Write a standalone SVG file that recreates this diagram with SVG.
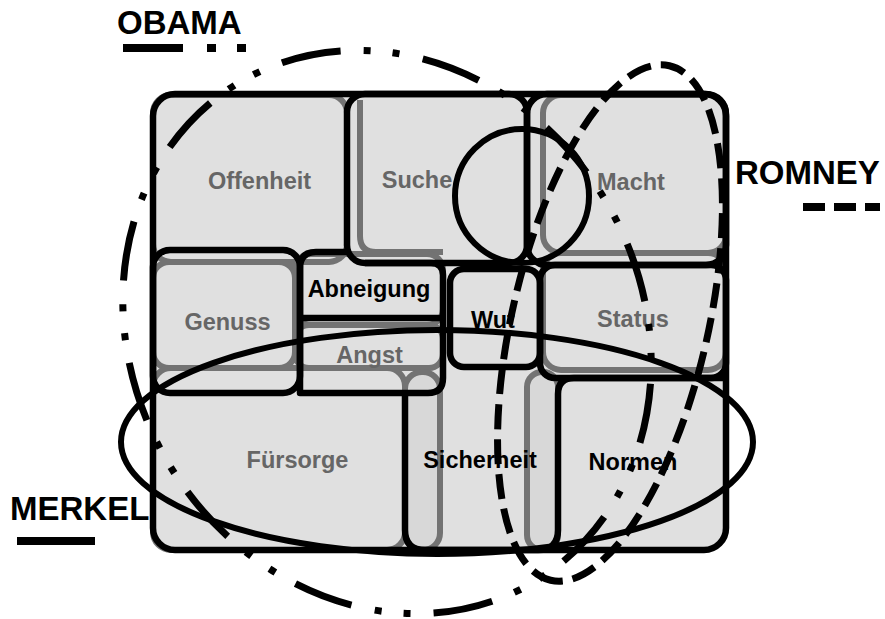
<svg xmlns="http://www.w3.org/2000/svg" width="885" height="619" viewBox="0 0 885 619">
<style>
.bg{fill:#e0e0e0;stroke:none}
.g{fill:none;stroke:#737373;stroke-width:6}
.pill{fill:#d8d8d8;stroke:#737373;stroke-width:6}
.b{fill:none;stroke:#000;stroke-width:6.5;stroke-linejoin:round}
.lbl{font-family:"Liberation Sans",Arial,sans-serif;font-weight:bold;font-size:23.5px;text-anchor:middle}
.gt{fill:#666666}
.bt{fill:#000}
.big{font-family:"Liberation Sans",Arial,sans-serif;font-weight:bold;font-size:33px;fill:#000}
.obama{fill:none;stroke:#000;stroke-width:7;stroke-dasharray:60 23 7 22 7 23.8;stroke-dashoffset:99}
.romney{fill:none;stroke:#000;stroke-width:7;stroke-dasharray:25 10;stroke-dashoffset:5}
.merkel{fill:none;stroke:#000;stroke-width:6}
.leg{fill:none;stroke:#000;stroke-width:8}
</style>
<rect class="bg" x="153" y="94" width="573" height="456" rx="22"/>
<g id="gray-cells">
<rect class="g" x="153" y="95" width="194" height="167" rx="18"/>
<path class="g" d="M360,100 V236 Q360,252 376,252 H443"/>
<rect class="g" x="543" y="95" width="183" height="158" rx="18"/>
<rect class="g" x="153" y="262" width="142" height="106" rx="16"/>
<rect class="g" x="295" y="254" width="148" height="71" rx="16"/>
<rect class="g" x="295" y="325" width="148" height="43" rx="14"/>
<rect class="g" x="543" y="253" width="183" height="117" rx="18"/>
<rect class="g" x="153" y="368" width="252" height="182" rx="18"/>
<rect class="pill" x="405" y="372" width="35" height="178" rx="17"/>
<rect class="pill" x="527" y="372" width="31" height="178" rx="15"/>
</g>
<g id="frame"><rect class="b" x="153" y="94" width="573" height="456" rx="22"/></g>
<g id="offenheit"><text class="lbl gt" x="259.5" y="189">Offenheit</text></g>
<g id="suche"><rect class="b" x="347" y="94" width="180" height="169" rx="18"/><text class="lbl gt" x="417" y="188">Suche</text></g>
<g id="macht"><rect class="b" x="527" y="94" width="199" height="171" rx="20"/><text class="lbl gt" x="631" y="190">Macht</text></g>
<g id="genuss"><rect class="b" x="153" y="250" width="147" height="143" rx="17"/><text class="lbl gt" x="227.5" y="330">Genuss</text></g>
<g id="abneigung"><path class="b" d="M300,318 V268 Q300,252 316,252 H349 M365,263 H431 Q443,263 443,275 V318 M300,318 H443"/><text class="lbl bt" x="369" y="297">Abneigung</text></g>
<g id="angst"><path class="b" d="M300,318 V393 H428 Q443,393 443,378 V318"/><text class="lbl gt" x="369.5" y="363">Angst</text></g>
<g id="wut"><rect class="b" x="450" y="269" width="90" height="98" rx="14"/><text class="lbl bt" x="471" y="328" style="text-anchor:start">Wut</text></g>
<g id="status"><rect class="b" x="540" y="265" width="186" height="113" rx="15"/><text class="lbl gt" x="633" y="327">Status</text></g>
<g id="fuersorge"><text class="lbl gt" x="297.5" y="468">Fürsorge</text></g>
<g id="sicherheit"><path class="b" d="M405,393 V530 Q405,550 425,550 H538 Q558,550 558,530 V394 Q558,378 574,378"/><text class="lbl bt" x="480" y="468">Sicherheit</text></g>
<g id="normen"><path class="b" d="M574,378 H726"/><text class="lbl bt" x="633" y="470">Normen</text></g>
<g id="circle"><circle class="merkel" cx="522" cy="196" r="67"/></g>
<g id="merkel"><ellipse class="merkel" cx="437" cy="442" rx="316" ry="112"/><text class="big" x="10" y="520">MERKEL</text><path class="leg" d="M17,541 H95"/></g>
<g id="obama"><ellipse class="obama" cx="387" cy="332" rx="290" ry="255" transform="rotate(60 387 332)"/><text class="big" x="117" y="34">OBAMA</text><path class="leg" d="M123,48 H247" stroke-dasharray="60 24 9 21 9 100"/></g>
<g id="romney"><ellipse class="romney" cx="610" cy="323" rx="264" ry="98" transform="rotate(103 610 323)"/><text class="big" x="735" y="184">ROMNEY</text><path class="leg" d="M803,207 H880" stroke-dasharray="22 9"/></g>
</svg>
